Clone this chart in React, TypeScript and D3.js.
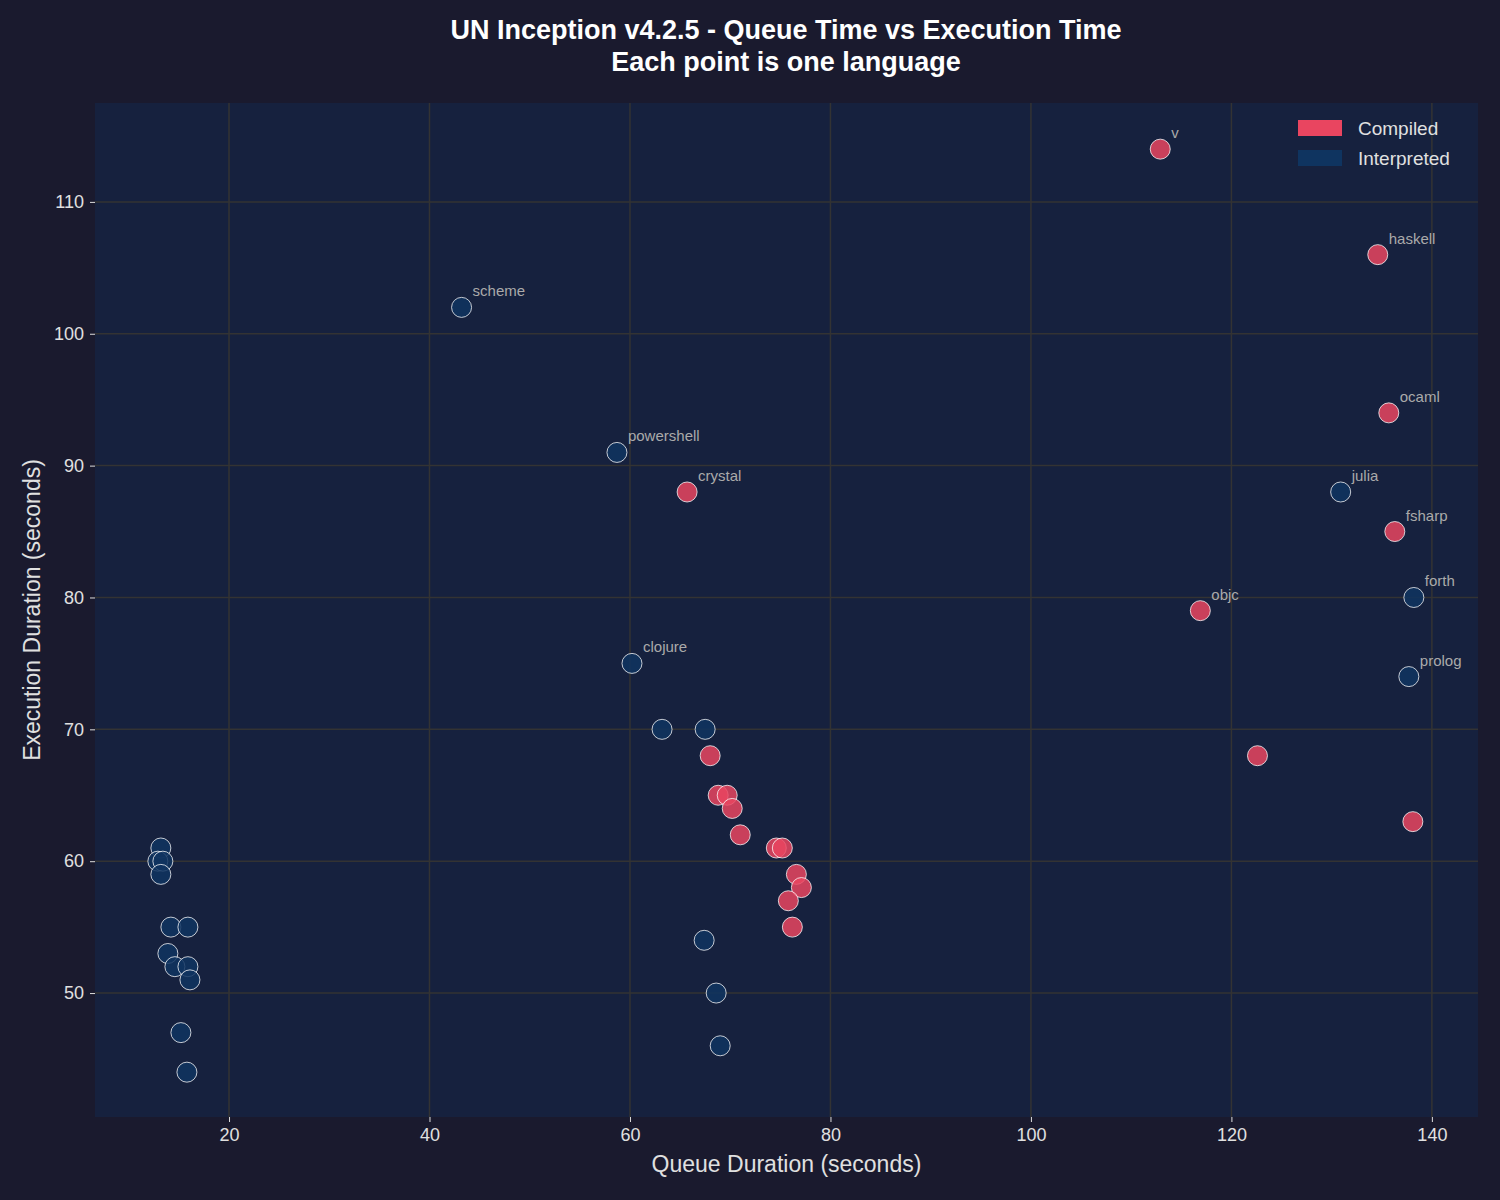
import React, { useEffect, useRef } from "react";
import * as d3 from "d3";

interface Lang {
  name: string;
  queue: number;
  exec: number;
  kind: "Compiled" | "Interpreted";
}

// labelled languages
const labelled: Lang[] = [
  { name: "v", queue: 112.9, exec: 114, kind: "Compiled" },
  { name: "haskell", queue: 134.6, exec: 106, kind: "Compiled" },
  { name: "scheme", queue: 43.2, exec: 102, kind: "Interpreted" },
  { name: "ocaml", queue: 135.7, exec: 94, kind: "Compiled" },
  { name: "powershell", queue: 58.7, exec: 91, kind: "Interpreted" },
  { name: "crystal", queue: 65.7, exec: 88, kind: "Compiled" },
  { name: "julia", queue: 130.9, exec: 88, kind: "Interpreted" },
  { name: "fsharp", queue: 136.3, exec: 85, kind: "Compiled" },
  { name: "forth", queue: 138.2, exec: 80, kind: "Interpreted" },
  { name: "objc", queue: 116.9, exec: 79, kind: "Compiled" },
  { name: "clojure", queue: 60.2, exec: 75, kind: "Interpreted" },
  { name: "prolog", queue: 137.7, exec: 74, kind: "Interpreted" },
];

const compiledQueue = [122.6, 138.1, 68, 68.8, 69.7, 70.2, 71, 74.6, 75.2, 76.6, 77.1, 75.8, 76.2];
const compiledExec = [68, 63, 68, 65, 65, 64, 62, 61, 61, 59, 58, 57, 55];

const interpQueue = [13.2, 12.9, 13.4, 13.2, 14.2, 15.9, 13.9, 14.6, 15.9, 16.1, 15.2, 15.8, 63.2, 67.5, 67.4, 68.6, 69];
const interpExec = [61, 60, 60, 59, 55, 55, 53, 52, 52, 51, 47, 44, 70, 70, 54, 50, 46];

const xTicks = [20, 40, 60, 80, 100, 120, 140];
const yTicks = [50, 60, 70, 80, 90, 100, 110];

const colors = { Compiled: "#e94560", Interpreted: "#0f3460" };

const App: React.FC = () => {
  const svgRef = useRef<SVGSVGElement | null>(null);

  useEffect(() => {
    if (!svgRef.current) return;
    const width = 1500;
    const height = 1200;
    const m = { top: 103, right: 22, bottom: 83, left: 95 };
    const iw = width - m.left - m.right;
    const ih = height - m.top - m.bottom;

    const root = d3.select(svgRef.current);
    root.selectAll("*").remove();
    root.attr("width", width).attr("height", height)
      .style("position", "absolute").style("left", "0px").style("top", "0px")
      .style("font-family", "Liberation Sans, Arial, sans-serif");

    root.append("rect").attr("width", width).attr("height", height).attr("fill", "#1a1a2e");

    const g = root.append("g").attr("transform", `translate(${m.left},${m.top})`);
    g.append("rect").attr("width", iw).attr("height", ih).attr("fill", "#16213e");

    const x = d3.scaleLinear().domain([6.63, 144.6]).range([0, iw]);
    const y = d3.scaleLinear().domain([40.6, 117.5]).range([ih, 0]);

    // grid
    g.selectAll(".gx").data(xTicks).enter().append("line")
      .attr("x1", (d) => x(d)).attr("x2", (d) => x(d)).attr("y1", 0).attr("y2", ih)
      .attr("stroke", "#333333").attr("stroke-width", 1.5);
    g.selectAll(".gy").data(yTicks).enter().append("line")
      .attr("y1", (d) => y(d)).attr("y2", (d) => y(d)).attr("x1", 0).attr("x2", iw)
      .attr("stroke", "#333333").attr("stroke-width", 1.5);

    // axes
    const xa = g.append("g").attr("transform", `translate(0,${ih})`)
      .call(d3.axisBottom(x).tickValues(xTicks).tickSize(5).tickPadding(6));
    const ya = g.append("g").call(d3.axisLeft(y).tickValues(yTicks).tickSize(5).tickPadding(6));
    [xa, ya].forEach((a) => {
      a.select(".domain").remove();
      a.selectAll("line").attr("stroke", "#dddddd");
      a.selectAll("text").attr("fill", "#e0e0e0").style("font-size", "18px").style("font-family", "Liberation Sans, Arial, sans-serif");
    });

    const all: Lang[] = [
      ...labelled,
      ...compiledQueue.map((q, i) => ({ name: "", queue: q, exec: compiledExec[i], kind: "Compiled" as const })),
      ...interpQueue.map((q, i) => ({ name: "", queue: q, exec: interpExec[i], kind: "Interpreted" as const })),
    ];

    g.selectAll("circle.pt").data(all).enter().append("circle")
      .attr("cx", (d) => x(d.queue)).attr("cy", (d) => y(d.exec)).attr("r", 10)
      .attr("fill", (d) => colors[d.kind]).attr("fill-opacity", 0.85)
      .attr("stroke", "rgba(255,255,255,0.75)").attr("stroke-width", 1);

    g.selectAll("text.lbl").data(labelled).enter().append("text")
      .attr("x", (d) => x(d.queue) + 11).attr("y", (d) => y(d.exec) - 11)
      .attr("fill", "#aaaaaa").style("font-size", "15px").text((d) => d.name);

    // legend
    const lg = g.append("g").attr("transform", `translate(${iw - 203},17)`);
    (["Compiled", "Interpreted"] as const).forEach((k, i) => {
      lg.append("rect").attr("x", 23).attr("y", i * 30).attr("width", 44).attr("height", 16).attr("fill", colors[k]);
      lg.append("text").attr("x", 83).attr("y", i * 30 + 15).attr("fill", "#e0e0e0").style("font-size", "19px").text(k);
    });

    // titles
    root.append("text").attr("x", 786).attr("y", 39).attr("text-anchor", "middle").attr("fill", "#ffffff")
      .style("font-size", "27px").style("font-weight", "bold").text("UN Inception v4.2.5 - Queue Time vs Execution Time");
    root.append("text").attr("x", 786).attr("y", 71).attr("text-anchor", "middle").attr("fill", "#ffffff")
      .style("font-size", "27px").style("font-weight", "bold").text("Each point is one language");
    root.append("text").attr("x", m.left + iw / 2).attr("y", 1172).attr("text-anchor", "middle").attr("fill", "#e0e0e0")
      .style("font-size", "23px").text("Queue Duration (seconds)");
    root.append("text").attr("transform", `translate(40,${m.top + ih / 2}) rotate(-90)`).attr("text-anchor", "middle")
      .attr("fill", "#e0e0e0").style("font-size", "23px").text("Execution Duration (seconds)");
  }, []);

  return <svg ref={svgRef}></svg>;
};

export default App;
